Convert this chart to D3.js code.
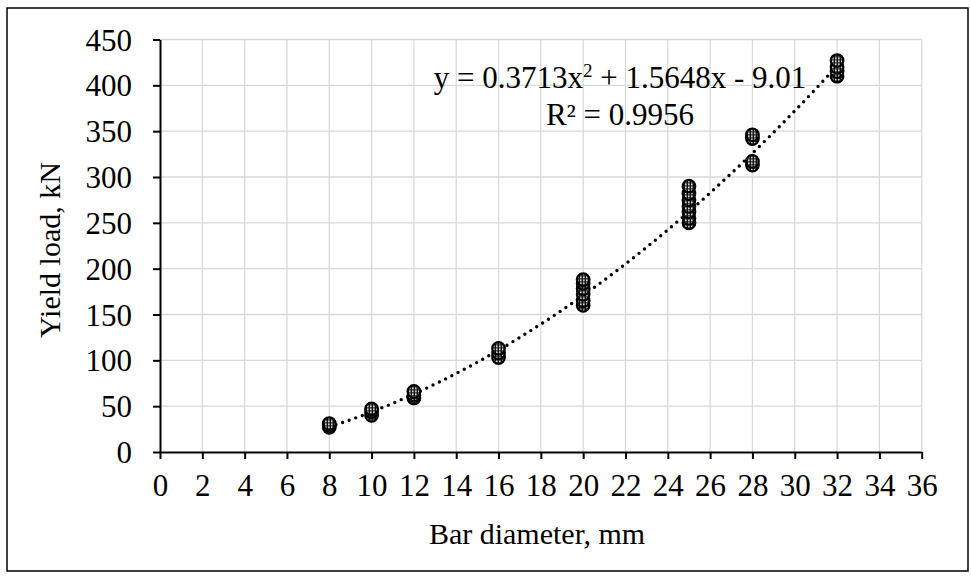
<!DOCTYPE html>
<html>
<head>
<meta charset="utf-8">
<script src="https://cdn.jsdelivr.net/npm/d3@7"></script>
<style>
  body { margin: 0; background: #fff; }
  text { font-family: "Liberation Serif", "Times New Roman", serif; fill: #000; }
</style>
</head>
<body>
<div class="graph-div"></div>
<script>
var outerWidth = 971;
var outerHeight = 579;
var margin = {left: 160, top: 39.5, right: 49.3, bottom: 127};

var innerWidth = outerWidth - margin.left - margin.right;
var innerHeight = outerHeight - margin.top - margin.bottom;

const fontSize = "31px";
const titleSize = "30px";

// data: bar diameter (mm) and measured yield loads (kN)
var diameters = [8, 10, 12, 16, 20, 25, 28, 32];
var yieldLoads = [
  [27, 29, 31],
  [40, 44, 47],
  [59, 62, 66],
  [103, 108, 113],
  [160, 165, 172, 178, 184, 188],
  [250, 255, 262, 268, 275, 282, 290],
  [313, 317, 342, 346],
  [410, 415, 420, 427]
];
// fitted trendline y = a x^2 + b x + c
var trendCoef = [0.3713, 1.5648, -9.01];

var xTickValues = d3.range(0, 37, 2);
var yTickValues = d3.range(0, 451, 50);

var points = [];
diameters.forEach(function(d, i) {
  yieldLoads[i].forEach(function(v) { points.push({x: d, y: v}); });
});

var svg = d3.select(".graph-div").append("svg")
  .attr("width", outerWidth)
  .attr("height", outerHeight);

// marker fill pattern (speckle like the excel marker)
var pat = svg.append("defs").append("pattern")
  .attr("id", "dots")
  .attr("width", 3).attr("height", 3)
  .attr("patternUnits", "userSpaceOnUse");
pat.append("rect").attr("width", 3).attr("height", 3).attr("fill", "#111");
pat.append("rect").attr("width", 1.6).attr("height", 1.6).attr("fill", "#fff");

// outer frame
svg.append("rect")
  .attr("x", 7).attr("y", 8)
  .attr("width", 961).attr("height", 563)
  .attr("fill", "none").attr("stroke", "#000").attr("stroke-width", 1.5);

var g = svg.append("g")
  .attr("transform", "translate(" + margin.left + "," + margin.top + ")");

var xScale = d3.scaleLinear().domain([0, 36]).range([0, innerWidth]);
var yScale = d3.scaleLinear().domain([0, 450]).range([innerHeight, 0]);

// grid
g.append("g").selectAll("line").data(xTickValues.slice(1)).enter().append("line")
  .attr("x1", function(d) { return xScale(d); })
  .attr("x2", function(d) { return xScale(d); })
  .attr("y1", 0).attr("y2", innerHeight)
  .attr("stroke", "#d9d9d9").attr("stroke-width", 1.3);
g.append("g").selectAll("line").data(yTickValues.slice(1)).enter().append("line")
  .attr("x1", 0).attr("x2", innerWidth)
  .attr("y1", function(d) { return yScale(d); })
  .attr("y2", function(d) { return yScale(d); })
  .attr("stroke", "#d9d9d9").attr("stroke-width", 1.3);

const xAxis = d3.axisBottom(xScale)
  .tickValues(xTickValues)
  .tickSize(7)
  .tickSizeOuter(0)
  .tickPadding(15);
const yAxis = d3.axisLeft(yScale)
  .tickValues(yTickValues)
  .tickSize(7)
  .tickSizeOuter(0)
  .tickPadding(21);

const xAxisG = g.append("g")
  .attr("transform", "translate(0," + innerHeight + ")")
  .call(xAxis);
const yAxisG = g.append("g").call(yAxis);

[xAxisG, yAxisG].forEach(function(a) {
  a.attr("font-family", null).attr("font-size", null);
  a.selectAll("path, line").attr("stroke", "#000").attr("stroke-width", 2);
  a.selectAll("text").style("font-size", fontSize);
});
yAxisG.selectAll("text").attr("dy", "0.34em");

// trendline
var trendXs = d3.range(diameters[0], diameters[diameters.length - 1] + 0.001, 0.25);
var trend = d3.line()
  .x(function(d) { return xScale(d); })
  .y(function(d) { return yScale(trendCoef[0] * d * d + trendCoef[1] * d + trendCoef[2]); });
g.append("path")
  .attr("d", trend(trendXs))
  .attr("fill", "none")
  .attr("stroke", "#000")
  .attr("stroke-width", 3.4)
  .attr("stroke-linecap", "round")
  .attr("stroke-dasharray", "0 7");

// markers
g.append("g").selectAll("circle").data(points).enter().append("circle")
  .attr("cx", function(d) { return xScale(d.x); })
  .attr("cy", function(d) { return yScale(d.y); })
  .attr("r", 6.3)
  .attr("fill", "url(#dots)")
  .attr("stroke", "#000")
  .attr("stroke-width", 2.2);

// equation label
var eq = g.append("text")
  .attr("text-anchor", "middle")
  .style("font-size", fontSize);
var l1 = eq.append("tspan").attr("x", 460).attr("y", 48.5);
l1.append("tspan").text("y = " + trendCoef[0] + "x");
l1.append("tspan").attr("dy", -11).style("font-size", "19px").text("2");
l1.append("tspan").attr("dy", 11).text(" + " + trendCoef[1] + "x - " + Math.abs(trendCoef[2]));
eq.append("tspan").attr("x", 460).attr("y", 85.5).text("R\u00B2 = 0.9956");

// axis titles
svg.append("text")
  .attr("x", 537)
  .attr("y", 544)
  .attr("text-anchor", "middle")
  .style("font-size", titleSize)
  .text("Bar diameter, mm");

svg.append("text")
  .attr("transform", "translate(60,250) rotate(-90)")
  .attr("text-anchor", "middle")
  .style("font-size", titleSize)
  .text("Yield load, kN");
</script>
</body>
</html>
